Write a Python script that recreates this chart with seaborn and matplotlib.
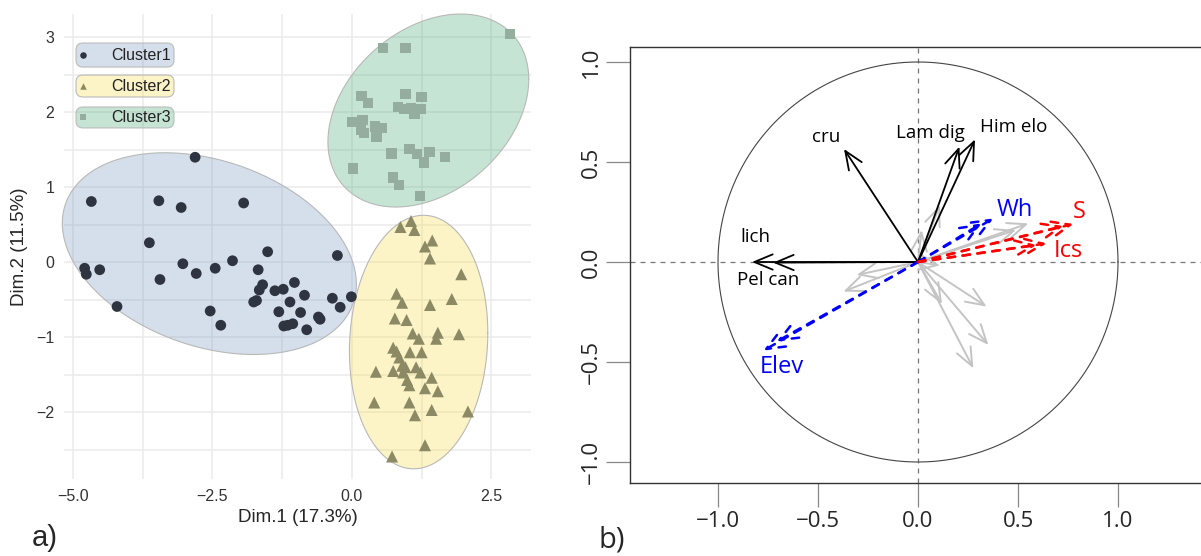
import numpy as np
import pandas as pd
import matplotlib
matplotlib.use("Agg")
import matplotlib.pyplot as plt
from matplotlib.patches import FancyBboxPatch
import seaborn as sns

# ---- panel a: cluster scores ----
c1_x = [-2.81, -4.67, -3.46, -3.06, -1.94, -3.63, -1.51, -0.26, -2.14, -3.03,
        -2.45, -4.79, -4.76, -4.52, -3.44, -2.79, -1.68, -1.60, -1.66, -1.38,
        -1.23, -1.03, -0.85, -1.11, -1.76, -1.71, -0.35, -0.01, -0.21, -0.92,
        -1.31, -0.60, -0.57, -2.54, -2.35, -1.22, -1.15, -1.06, -0.81, -4.21]
c1_y = [1.40, 0.81, 0.82, 0.73, 0.79, 0.26, 0.14, 0.09, 0.02, -0.02,
        -0.08, -0.08, -0.16, -0.10, -0.23, -0.15, -0.10, -0.30, -0.37, -0.38,
        -0.36, -0.27, -0.44, -0.53, -0.53, -0.51, -0.48, -0.46, -0.60, -0.67,
        -0.66, -0.73, -0.76, -0.65, -0.84, -0.85, -0.84, -0.82, -0.90, -0.59]

c2_x = [0.87, 1.06, 1.12, 1.31, 1.44, 1.40, 1.96, 0.80, 0.90, 1.40,
        1.79, 0.77, 0.98, 1.09, 1.20, 1.54, 1.51, 1.92, 0.74, 0.80,
        0.85, 1.04, 1.25, 0.90, 0.96, 0.74, 0.43, 0.92, 1.15, 1.23,
        0.99, 1.03, 1.43, 1.31, 1.54, 0.40, 1.03, 1.43, 1.13, 2.08,
        1.31, 0.72]
c2_y = [0.47, 0.55, 0.43, 0.21, 0.29, 0.05, -0.16, -0.42, -0.54, -0.57,
        -0.49, -0.75, -0.77, -0.95, -1.02, -0.94, -1.02, -0.96, -1.14, -1.19,
        -1.27, -1.20, -1.20, -1.38, -1.40, -1.45, -1.46, -1.47, -1.40, -1.47,
        -1.57, -1.64, -1.54, -1.68, -1.72, -1.87, -1.87, -1.97, -2.04, -1.99,
        -2.44, -2.59]

c3_x = [0.56, 0.96, 2.83, 0.17, 0.29, 0.96, 1.25, 0.83, 0.93, 1.06,
        1.12, 1.24, 0.00, 0.19, 0.42, 0.53, 0.16, 0.22, 0.44, 0.71,
        1.03, 1.17, 1.29, 1.39, 1.67, 0.02, 0.74, 0.85, 1.22]
c3_y = [2.86, 2.86, 3.04, 2.22, 2.12, 2.24, 2.20, 2.07, 2.04, 2.05,
        1.98, 2.04, 1.87, 1.90, 1.81, 1.79, 1.76, 1.72, 1.67, 1.45,
        1.51, 1.44, 1.33, 1.47, 1.40, 1.25, 1.13, 1.03, 0.88]

clusters = ["Cluster1", "Cluster2", "Cluster3"]
point_colors = ["#2E3440", "#8C8A64", "#95AD9E"]
fill_colors = ["#7698C0", "#F8DA48", "#44A873"]
markers = ["o", "^", "s"]
marker_sizes = [60, 75, 55]

# ellipses: centre and shape matrix (xx, yy, xy)
ell_cx = [-2.555, 1.196, 1.37]
ell_cy = [0.115, -1.064, 2.023]
ell_sxx = [6.943, 1.538, 3.24]
ell_syy = [1.809, 2.856, 1.656]
ell_sxy = [-1.07, 0.15, 0.75]

# ---- panel b: correlation circle arrows ----
black_names = ["cru", "Lam dig", "Him elo", "lich", "Pel can"]
black_x = [-0.37, 0.207, 0.285, -0.83, -0.725]
black_y = [0.565, 0.577, 0.613, 0.0, -0.003]

blue_x = [0.377, 0.318, -0.773, -0.707]
blue_y = [0.218, 0.193, -0.443, -0.398]

red_x = [0.777, 0.727, 0.643, 0.593]
red_y = [0.190, 0.180, 0.093, 0.085]

grey_x = [0.552, 0.49, 0.11, 0.018, 0.11, -0.307, -0.373, 0.343, 0.352, 0.277, 0.12]
grey_y = [0.193, 0.16, -0.017, 0.16, 0.285, -0.065, -0.148, -0.223, -0.415, -0.532, -0.21]

label_text = ["cru", "Lam dig", "Him elo", "lich", "Pel can", "Wh", "Elev", "S", "Ics"]
label_x = [-0.457, 0.06, 0.477, -0.815, -0.748, 0.485, -0.68, 0.807, 0.752]
label_y = [0.627, 0.643, 0.677, 0.127, -0.09, 0.26, -0.523, 0.25, 0.057]
label_color = ["black"] * 5 + ["blue", "blue", "red", "red"]
label_size = [13.5, 13.5, 13.5, 13.5, 13.5, 17, 17, 17, 17]


def ellipse_path(cx, cy, sxx, syy, sxy, n_pts=200):
    chol = np.linalg.cholesky(np.array([[sxx, sxy], [sxy, syy]]))
    t = np.linspace(0, 2 * np.pi, n_pts)
    unit = np.vstack([np.cos(t), np.sin(t)])
    pts = chol @ unit
    return cx + pts[0], cy + pts[1]


sns.set_theme(style="white")
plt.rcParams["font.family"] = ["Liberation Sans", "DejaVu Sans"]

fig = plt.figure(figsize=(12.01, 5.56), dpi=100)
ax1 = fig.add_axes([64 / 1201, 77 / 556, 467 / 1201, 465 / 556])
ax2 = fig.add_axes([630 / 1201, 73 / 556, 600 / 1201, 436 / 556])

# ---------------- panel a ----------------
df = pd.concat([
    pd.DataFrame({"x": c1_x, "y": c1_y, "cluster": clusters[0]}),
    pd.DataFrame({"x": c2_x, "y": c2_y, "cluster": clusters[1]}),
    pd.DataFrame({"x": c3_x, "y": c3_y, "cluster": clusters[2]}),
])

ax1.set_xlim(-5.16, 3.21)
ax1.set_ylim(-2.89, 3.31)
ax1.set_xticks([-5.0, -2.5, 0.0, 2.5])
ax1.set_xticklabels(["\u22125.0", "\u22122.5", "0.0", "2.5"])
ax1.set_xticks([-3.75, -1.25, 1.25], minor=True)
ax1.set_yticks([-2, -1, 0, 1, 2, 3])
ax1.set_yticklabels(["\u22122", "\u22121", "0", "1", "2", "3"])
ax1.set_yticks([-2.5, -1.5, -0.5, 0.5, 1.5, 2.5], minor=True)
ax1.grid(True, which="both", color="#EBEBEB", linewidth=1.1)
ax1.set_axisbelow(True)
for sp in ax1.spines.values():
    sp.set_visible(False)
ax1.tick_params(which="both", length=0, labelsize=11.5, colors="#333333", pad=7)

for i in range(len(clusters)):
    ex, ey = ellipse_path(ell_cx[i], ell_cy[i], ell_sxx[i], ell_syy[i], ell_sxy[i])
    ax1.fill(ex, ey, facecolor=fill_colors[i], alpha=0.3, edgecolor="none",
             zorder=1, clip_on=False)
    ax1.plot(ex, ey, color="#B8B8B8", lw=0.8, zorder=1, clip_on=False)

sns.scatterplot(data=df, x="x", y="y", hue="cluster", style="cluster", size="cluster",
                palette=point_colors, markers=markers,
                sizes=dict(zip(clusters, marker_sizes)), linewidth=0,
                legend=False, ax=ax1, zorder=3, clip_on=False)

ax1.set_xlabel("Dim.1 (17.3%)", fontsize=13.5, labelpad=4)
ax1.set_ylabel("Dim.2 (11.5%)", fontsize=13.5, labelpad=6)

# legend as coloured rounded boxes
leg_top = [0.9376, 0.8688, 0.80]
leg_bot = [0.886, 0.8215, 0.755]
asp = 465 / 467
for i, cl in enumerate(clusters):
    box = FancyBboxPatch((0.0257, leg_bot[i]), 0.2098, leg_top[i] - leg_bot[i],
                         boxstyle="round,pad=0,rounding_size=0.015",
                         mutation_aspect=1 / asp, transform=ax1.transAxes,
                         facecolor=fill_colors[i], alpha=0.3, edgecolor="none", zorder=4)
    ax1.add_patch(box)
    edge = FancyBboxPatch((0.0257, leg_bot[i]), 0.2098, leg_top[i] - leg_bot[i],
                          boxstyle="round,pad=0,rounding_size=0.015",
                          mutation_aspect=1 / asp, transform=ax1.transAxes,
                          facecolor="none", edgecolor="#BBBBBB", lw=0.8, zorder=4)
    ax1.add_patch(edge)
    mid = (leg_top[i] + leg_bot[i]) / 2
    ax1.text(0.1006, mid, cl, transform=ax1.transAxes, fontsize=11.5,
             va="center", ha="left", color="#222222", zorder=5)
    ax1.scatter([0.0407], [mid], transform=ax1.transAxes, marker=markers[i],
                color=point_colors[i], s=22, zorder=5, linewidth=0)

# ---------------- panel b ----------------
ax2.set_xlim(-1.44, 1.56)
ax2.set_ylim(-1.105, 1.075)
ax2.set_facecolor("white")
for sp in ax2.spines.values():
    sp.set_visible(True)
    sp.set_color("#333333")
    sp.set_linewidth(1.0)

ax2.axhline(0, color="#777777", lw=0.9, ls=(0, (4, 4)), zorder=1)
ax2.axvline(0, color="#777777", lw=0.9, ls=(0, (4, 4)), zorder=1)
theta = np.linspace(0, 2 * np.pi, 400)
ax2.plot(np.cos(theta), np.sin(theta), color="#444444", lw=0.8, zorder=1)


def draw_arrows(xs, ys, color, ls, lw, z):
    for x, y in zip(xs, ys):
        ax2.annotate("", xy=(x, y), xytext=(0, 0),
                     arrowprops=dict(arrowstyle="->,head_length=0.6,head_width=0.25",
                                     color=color, lw=lw, linestyle=ls,
                                     shrinkA=0, shrinkB=0, mutation_scale=22),
                     zorder=z)


draw_arrows(grey_x, grey_y, "#C4C4C4", "-", 1.4, 2)
draw_arrows(black_x, black_y, "black", "-", 1.3, 3)
draw_arrows(blue_x, blue_y, "#0000FF", (0, (3, 3)), 1.8, 4)
draw_arrows(red_x, red_y, "#FF0000", (0, (3, 3)), 1.8, 4)

for t, x, y, c, s in zip(label_text, label_x, label_y, label_color, label_size):
    ax2.text(x, y, t, color=c, fontsize=s, ha="center", va="center",
             family=["Open Sans", "DejaVu Sans"], zorder=5)

ax2.set_xticks([-1.0, -0.5, 0.0, 0.5, 1.0])
ax2.set_xticklabels(["\u22121.0", "\u22120.5", "0.0", "0.5", "1.0"])
ax2.set_yticks([-1.0, -0.5, 0.0, 0.5, 1.0])
ax2.set_yticklabels(["\u22121.0", "\u22120.5", "0.0", "0.5", "1.0"], rotation=90, va="center")
ax2.tick_params(length=17, width=0.9, color="#888888", labelsize=16, pad=3,
                bottom=True, left=True)
for lab in ax2.get_xticklabels() + ax2.get_yticklabels():
    lab.set_family(["Open Sans", "DejaVu Sans"])

fig.text(45 / 1201, 1 - 538 / 556, "a)", fontsize=21, ha="center", va="center")
fig.text(612 / 1201, 1 - 540 / 556, "b)", fontsize=21, ha="center", va="center",
         family=["Open Sans", "DejaVu Sans"])

fig.savefig("out.png", dpi=100)
